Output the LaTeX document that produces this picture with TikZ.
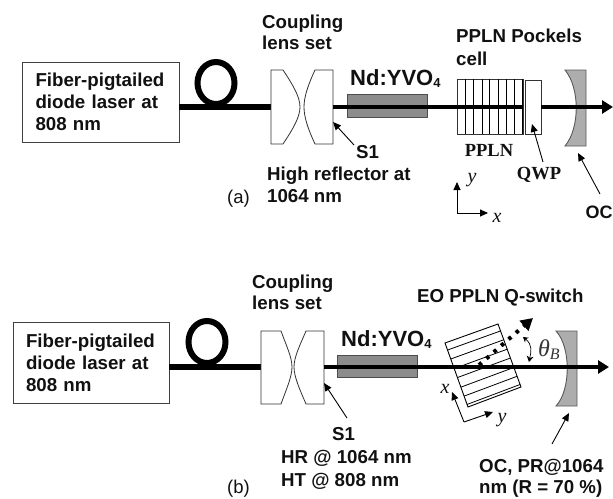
\documentclass[tikz,border=0pt]{standalone}
\usepackage{fontspec}
\setmainfont{Liberation Sans}
\newfontfamily\tms{Liberation Serif}
\usetikzlibrary{arrows.meta,calc}
\definecolor{ink}{HTML}{111111}
\tikzset{
  lbl/.style={anchor=base west,inner sep=0pt,text=ink,font=\fontsize{18.7}{22}\selectfont\bfseries},
  nd/.style={anchor=base west,inner sep=0pt,text=ink,font=\fontsize{22}{24}\selectfont\bfseries},
  tag/.style={anchor=base west,inner sep=0pt,text=ink,font=\fontsize{18.5}{22}\selectfont},
  tms/.style={anchor=base,inner sep=0pt,text=ink,font=\fontsize{18.5}{22}\selectfont\tms\bfseries},
  axlab/.style={anchor=base,inner sep=0pt,text=ink,font=\fontsize{20}{22}\selectfont\tms\itshape},
  laserbox/.style={draw=black!75,line width=.9pt,align=left,inner sep=0pt,text=ink,font=\fontsize{18.7}{22}\selectfont\bfseries},
  fiber/.style={line width=5.5pt,black},
  ring/.style={line width=6pt,black},
  beam/.style={line width=4.3pt,black},
  beamtip/.style={-{Triangle[length=11pt,width=13pt]}},
  optic/.style={draw=black!80,line width=.8pt,fill=white},
  crystal/.style={draw=black!70,line width=1pt,fill=black!45},
  oc/.style={draw=black!65,line width=.9pt,fill=black!32},
  stripe/.style={black,line width=.8pt},
  callout/.style={black,line width=.9pt,-{Triangle[length=8pt,width=7pt]}},
  axisline/.style={black,line width=.9pt,-{Triangle[length=8pt,width=7pt]}},
}
\begin{document}
\begin{tikzpicture}[x=1pt,y=-1pt]
\useasboundingbox[fill=white] (0,0) rectangle (613,498);

% ---------- panel (a) ----------
\node[laserbox,minimum width=157pt,minimum height=80pt,text width=130pt] (laserA) at (100.5,102) {Fiber-pigtailed\\diode laser at\\808 nm};
\draw[ring] (216,83) ellipse [x radius=18.5,y radius=21];
\coordinate (lensAin) at (271,107);
\coordinate (lensAout) at (333,107);
\coordinate (beamAstop) at (523,107);
\coordinate (qwpAout) at (541,107);
\coordinate (beamAend) at (613,107);
\draw[fiber] (laserA.east |- lensAin) -- (lensAin);
\draw[optic] (271,70) -- (283,70) .. controls (293,85) and (300,97) .. (300,107) .. controls (300,117) and (293,129) .. (283,144) -- (271,144) -- cycle;
\draw[optic] (333,70) -- (315,70) .. controls (308,85) and (304,97) .. (304,107) .. controls (304,117) and (308,129) .. (315,144) -- (333,144) -- cycle;
\node[crystal,minimum width=80pt,minimum height=23pt,inner sep=0pt] (ndA) at (387,105.5) {};
\draw[black!80,line width=.7pt] (457,79) rectangle (523,134);
\foreach \x in {465,473,482,489,498,506,514,522}
  \draw[stripe] (\x,79) -- (\x,134);
\draw[optic] (525,80) rectangle (541,134);
\path[oc] (565,70) -- (586,70) -- (586,146) -- (565,146) .. controls (580,128) and (580,88) .. (565,70) -- cycle;
\draw[beam] (lensAout) -- (beamAstop);
\draw[beam,beamtip] (qwpAout) -- (beamAend);
\node[lbl] (coupA1) at (262,28) {Coupling};
\node[lbl] (coupA2) at (262,49.5) {lens set};
\node[nd] (ndlabA) at (350,85) {Nd:YVO\raisebox{-.25ex}{\fontsize{13}{13}\selectfont 4}};
\node[lbl] (pock1) at (456,42) {PPLN Pockels};
\node[lbl] (pock2) at (456,65) {cell};
\node[lbl] (s1A) at (356,158) {S1};
\node[lbl] (hr1) at (267,180) {High reflector at};
\node[lbl] (hr2) at (267,202) {1064 nm};
\node[tag] (tagA) at (227,203) {(a)};
\node[tms] (pplnlab) at (489,156) {PPLN};
\node[tms] (qwplab) at (539,179) {QWP};
\node[lbl,font=\fontsize{18}{22}\selectfont\bfseries] (ocA) at (585.5,218) {OC};
\coordinate (s1Atail) at (354,145);
\coordinate (s1Ahead) at (333,122);
\coordinate (qwpAtail) at (543,162);
\coordinate (qwpAhead) at (532,124);
\coordinate (ocAtail) at (600,194);
\coordinate (ocAhead) at (578,153);
\draw[callout] (s1Atail) -- (s1Ahead);
\draw[callout] (qwpAtail) -- (qwpAhead);
\draw[callout] (ocAtail) -- (ocAhead);
\coordinate (axA) at (457,213);
\coordinate (axAy) at (457,182);
\coordinate (axAx) at (488,213);
\draw[axisline] (axA) -- (axAy);
\draw[axisline] (axA) -- (axAx);
\node[axlab] (yA) at (472,182) {y};
\node[axlab] (xA) at (497,222) {x};

% ---------- panel (b) ----------
\node[laserbox,minimum width=156pt,minimum height=81pt,text width=130pt] (laserB) at (91,362.5) {Fiber-pigtailed\\diode laser at\\808 nm};
\draw[ring] (207,342) ellipse [x radius=18.5,y radius=21];
\coordinate (lensBin) at (261,367);
\coordinate (lensBout) at (324,367);
\coordinate (beamBend) at (609,367);
\draw[fiber] (laserB.east |- lensBin) -- (lensBin);
\draw[optic] (261,331) -- (281,331) .. controls (286,345) and (292,357) .. (292,367) .. controls (292,377) and (286,390) .. (281,404) -- (261,404) -- cycle;
\draw[optic] (324,331) -- (306,331) .. controls (300,345) and (294,357) .. (294,367) .. controls (294,377) and (300,390) .. (306,404) -- (324,404) -- cycle;
\node[crystal,minimum width=80pt,minimum height=22pt,inner sep=0pt] (ndB) at (377,366) {};
\coordinate (qa) at (445,343);
\coordinate (qb) at (498,324);
\coordinate (qc) at (521,387);
\coordinate (qd) at (468,407);
\draw[stripe,line width=.9pt] (qa) -- (qb) -- (qc) -- (qd) -- cycle;
\foreach \t in {.11,.25,.40,.54,.69,.83,.96}
  \draw[stripe] ($(qa)!\t!(qd)$) -- ($(qb)!\t!(qc)$);
\path[oc] (556,331) -- (577,331) -- (577,406) -- (556,406) .. controls (571,390) and (571,347) .. (556,331) -- cycle;
\draw[beam,beamtip] (lensBout) -- (beamBend);
\coordinate (dotS) at (479,365);
\coordinate (dotE) at (533,318);
\draw[black,line width=4pt,dash pattern=on 3.5pt off 6.3pt,-{Triangle[length=12pt,width=13pt]}] (dotS) -- (dotE);
\coordinate (thT) at (523,337);
\coordinate (thB) at (529,362);
\draw[black,line width=.7pt,{Stealth[length=5pt,width=6pt]}-{Stealth[length=6pt,width=7pt]}] (thT) .. controls (533,345) and (531,352) .. (thB);
\node[anchor=base west,inner sep=0pt,text=ink!85,font=\fontsize{24}{24}\selectfont\tms\itshape] (theta) at (538,356) {θ\raisebox{-.35ex}{\fontsize{16}{16}\selectfont B}};
\node[lbl] (coupB1) at (252,288) {Coupling};
\node[lbl] (coupB2) at (252,309.5) {lens set};
\node[lbl] (eo) at (417,302.5) {EO PPLN Q-switch};
\node[nd] (ndlabB) at (341,346) {Nd:YVO\raisebox{-.25ex}{\fontsize{13}{13}\selectfont 4}};
\node[lbl] (s1B) at (332,440.5) {S1};
\node[lbl] (hrB) at (281,463) {HR @ 1064 nm};
\node[lbl] (htB) at (281,486) {HT @ 808 nm};
\node[lbl] (ocB1) at (479,472) {OC, PR@1064};
\node[lbl] (ocB2) at (479,493) {nm (R = 70 \%)};
\node[tag] (tagB) at (227,493) {(b)};
\coordinate (s1Btail) at (347,418);
\coordinate (s1Bhead) at (324,383);
\coordinate (ocBtail) at (552,444);
\coordinate (ocBhead) at (569,413);
\draw[callout] (s1Btail) -- (s1Bhead);
\draw[callout] (ocBtail) -- (ocBhead);
\coordinate (axB) at (464,422);
\coordinate (axBx) at (452,392);
\coordinate (axBy) at (493,412);
\draw[axisline] (axB) -- (axBx);
\draw[axisline] (axB) -- (axBy);
\node[axlab] (xB) at (445,393) {x};
\node[axlab] (yB) at (502,422) {y};
\end{tikzpicture}
\end{document}
